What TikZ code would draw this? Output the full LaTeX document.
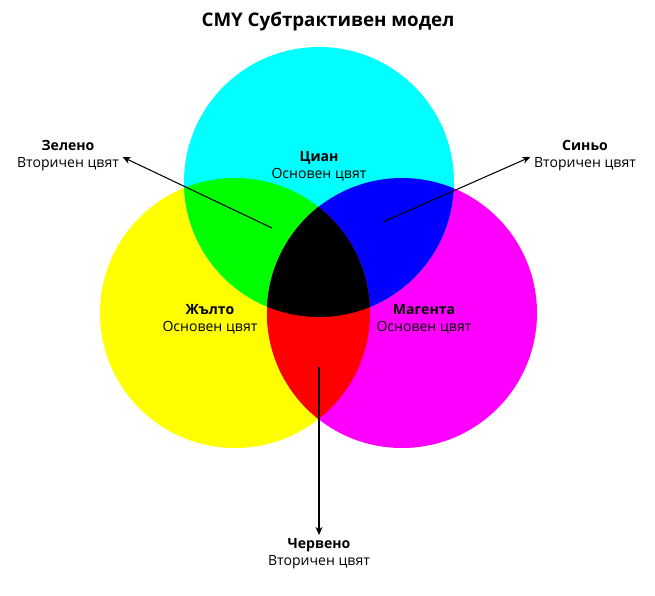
\documentclass[tikz,border=0pt]{standalone}
\usepackage{fontspec}
\setmainfont{Open Sans}
\usetikzlibrary{arrows.meta}
\definecolor{cmyC}{RGB}{0,255,255}
\definecolor{cmyM}{RGB}{255,0,255}
\definecolor{cmyY}{RGB}{255,255,0}
\definecolor{cmyR}{RGB}{255,0,0}
\definecolor{cmyG}{RGB}{0,255,0}
\definecolor{cmyB}{RGB}{0,0,255}
\tikzset{
  lbl/.style={align=center, font=\fontsize{12}{14.5}\selectfont, inner sep=1pt},
  arr/.style={-{Stealth[length=7pt,width=6pt]}, line width=0.9pt, shorten >=2pt}
}
\begin{document}
\begin{tikzpicture}[x=0.03cm, y=-0.03cm]
        \useasboundingbox (0,0) rectangle (655,595);
        % main circles
        \fill[cmyY] (235,313) circle (135);
        \fill[cmyM] (402,313) circle (135);
        \fill[cmyC] (319,182) circle (135);
        % overlaps
        \begin{scope}
            \clip (235,313) circle (135);
            \fill[cmyG] (319,182) circle (135);
        \end{scope}
        \begin{scope}
            \clip (402,313) circle (135);
            \fill[cmyB] (319,182) circle (135);
        \end{scope}
        \begin{scope}
            \clip (235,313) circle (135);
            \fill[cmyR] (402,313) circle (135);
        \end{scope}
        \begin{scope}
            \clip (235,313) circle (135);
            \clip (402,313) circle (135);
            \fill[black] (319,182) circle (135);
        \end{scope}

        \node[font=\fontsize{16}{19}\selectfont\bfseries] (Title) at (328,22) {CMY Субтрактивен модел};

        \node[lbl] (Cyan) at (319,166) {\textbf{Циан}\\Основен цвят};
        \node[lbl] (Yellow) at (210,319) {\textbf{Жълто}\\Основен цвят};
        \node[lbl] (Magenta) at (424,319) {\textbf{Магента}\\Основен цвят};

        \node[lbl] (Green) at (68,156) {\textbf{Зелено}\\Вторичен цвят};
        \node[lbl] (Blue) at (585,156) {\textbf{Синьо}\\Вторичен цвят};
        \node[lbl] (Red) at (319,554) {\textbf{Червено}\\Вторичен цвят};

        \coordinate (GreenTail) at (272,228);
        \coordinate (BlueTail) at (383,222);
        \coordinate (RedTail) at (319,367);

        \draw[arr] (GreenTail) -- (Green.east);
        \draw[arr] (BlueTail) -- (Blue.west);
        \draw[arr] (RedTail) -- (Red.north);
\end{tikzpicture}
\end{document}
